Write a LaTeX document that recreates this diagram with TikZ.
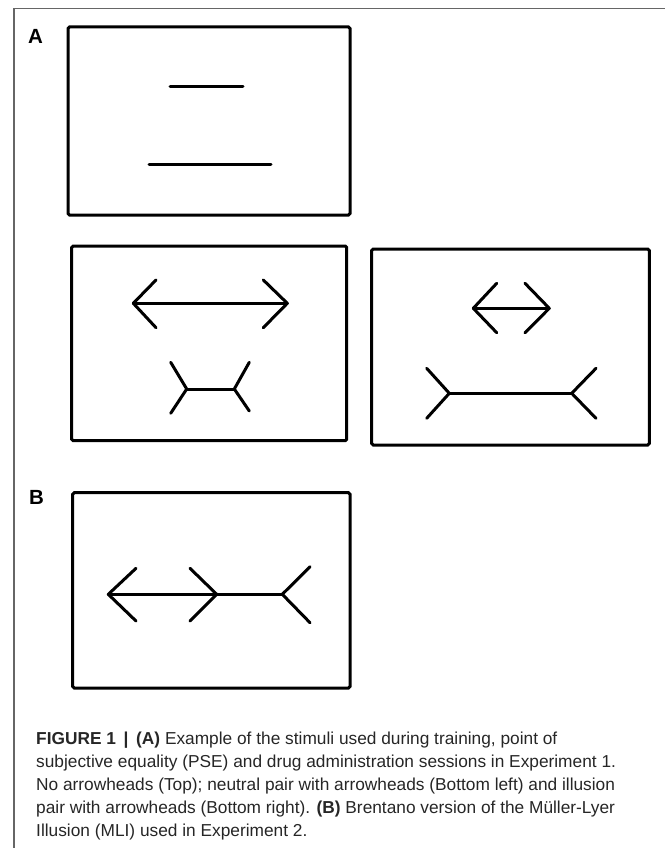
\documentclass[tikz,border=0pt]{standalone}
\usepackage{fontspec}
\setmainfont{Liberation Sans}
\begin{document}
\begin{tikzpicture}[x=1pt,y=-1pt,
  frame/.style={draw=black!60, line width=1.6pt},
  stimbox/.style={draw=black, line width=3pt, rounded corners=1.5pt},
  stroke/.style={draw=black, line width=3pt, line cap=round, line join=round},
  panel/.style={font=\fontsize{20.5}{24}\selectfont\bfseries, anchor=north west, inner sep=0pt},
  capline/.style={font=\fontsize{17.3}{21}\selectfont, text=black!85, anchor=base west, inner sep=0pt}]
\useasboundingbox (0,0) rectangle (665,848);
% outer frame
\draw[frame] (14,848) -- (14,8.7) -- (665,8.7);
% panel labels
\node[panel] (labA) at (28,29) {A};
\node[panel] (labB) at (29,490) {B};
% box 1: no arrowheads
\draw[stimbox] (68,27) rectangle (350,215);
\draw[stroke] (170,87) -- (243,87);
\draw[stroke] (149,164) -- (271,164);
% box 2: neutral pair
\draw[stimbox] (71.7,246) rectangle (346.7,440.7);
\draw[stroke] (133.3,303.3) -- (287.3,303.3);
\draw[stroke] (156,280) -- (133.3,303.3) -- (156,327.7);
\draw[stroke] (263.3,280) -- (287.3,303.3) -- (263.3,327.7);
\draw[stroke] (186.7,389) -- (234.3,389);
\draw[stroke] (170.7,362.3) -- (186.7,389) -- (170.7,413.3);
\draw[stroke] (249.3,362.3) -- (234.3,389) -- (249.3,411);
% box 3: illusion pair
\draw[stimbox] (371.7,249) rectangle (649.3,445);
\draw[stroke] (473.3,308.3) -- (549.3,308.3);
\draw[stroke] (496.7,283.3) -- (473.3,308.3) -- (496.7,332.7);
\draw[stroke] (525,283.3) -- (549.3,308.3) -- (525,332.7);
\draw[stroke] (449.3,393.3) -- (571.7,393.3);
\draw[stroke] (426.7,368.3) -- (449.3,393.3) -- (426.7,418.3);
\draw[stroke] (596,368.3) -- (571.7,393.3) -- (596,418.3);
% box 4: Brentano
\draw[stimbox] (72.7,492.7) rectangle (350,688);
\draw[stroke] (108.3,594.3) -- (282.3,594.3);
\draw[stroke] (136,568.3) -- (108.3,594.3) -- (136,621);
\draw[stroke] (190,568.3) -- (216.7,594.3) -- (190,621);
\draw[stroke] (310,566.7) -- (282.3,594.3) -- (310,622.7);
% caption
\node[capline] (c1) at (36,744) {\textbf{FIGURE 1 \,|\, (A)} Example of the stimuli used during training, point of};
\node[capline] (c2) at (36,767) {subjective equality (PSE) and drug administration sessions in Experiment 1.};
\node[capline] (c3) at (36,790) {No arrowheads (Top); neutral pair with arrowheads (Bottom left) and illusion};
\node[capline] (c4) at (36,813) {pair with arrowheads (Bottom right). \textbf{(B)} Brentano version of the Müller-Lyer};
\node[capline] (c5) at (36,836) {Illusion (MLI) used in Experiment 2.};
\end{tikzpicture}
\end{document}
